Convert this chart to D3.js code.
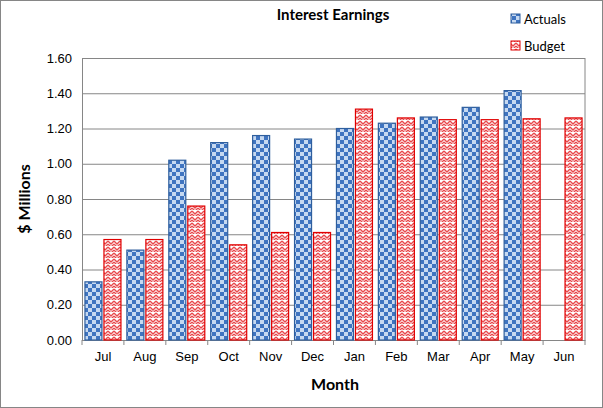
<!DOCTYPE html>
<html><head><meta charset="utf-8">
<script src="https://cdn.jsdelivr.net/npm/d3@7"></script>
<style>body{margin:0;background:#fff}svg{font-family:Lato,"Liberation Sans",sans-serif}</style>
</head><body><div id="chart"></div>
<script>
const months = ["Jul","Aug","Sep","Oct","Nov","Dec","Jan","Feb","Mar","Apr","May","Jun"];
const actuals = [0.33,0.51,1.02,1.12,1.16,1.14,1.20,1.23,1.265,1.32,1.415,null];
const budget = [0.57,0.57,0.76,0.54,0.61,0.61,1.31,1.26,1.25,1.25,1.255,1.26];
const yTicks = [0,0.2,0.4,0.6,0.8,1.0,1.2,1.4,1.6];

const W = 603, H = 408;
const m = {left: 82, right: 18, top: 58, bottom: 68};
const svg = d3.select("#chart").append("svg").attr("width", W).attr("height", H);
const defs = svg.append("defs");

// checker pattern for actuals
const chk = defs.append("pattern").attr("id", "chk").attr("patternUnits", "userSpaceOnUse")
    .attr("width", 8).attr("height", 8);
chk.append("rect").attr("width", 8).attr("height", 8).attr("fill", "#c6d9f1");
chk.append("rect").attr("width", 4).attr("height", 4).attr("fill", "#3f74c0");
chk.append("rect").attr("x", 4).attr("y", 4).attr("width", 4).attr("height", 4).attr("fill", "#3f74c0");

// zigzag pattern for budget
const zz = defs.append("pattern").attr("id", "zz").attr("patternUnits", "userSpaceOnUse")
    .attr("width", 6).attr("height", 6);
zz.append("rect").attr("width", 6).attr("height", 6).attr("fill", "#fff");
zz.append("path").attr("d", "M0,1 L3,4 L6,1 M0,4 L3,7 L6,4").attr("stroke", "#e8484c")
    .attr("stroke-width", 1.3).attr("fill", "none");

svg.append("rect").attr("x", 0.5).attr("y", 0.5).attr("width", W - 1).attr("height", H - 1)
    .attr("fill", "none").attr("stroke", "#868686");

const x = d3.scaleBand().domain(months).range([m.left, W - m.right]);
const y = d3.scaleLinear().domain([0, 1.6]).range([H - m.bottom, m.top]);

const g = svg.append("g");
g.append("g").attr("transform", `translate(${m.left},0)`)
    .call(d3.axisLeft(y).tickValues(yTicks).tickFormat(d3.format(".2f"))
        .tickSize(-(W - m.left - m.right)).tickPadding(10))
    .call(a => a.select(".domain").attr("stroke", "#868686"))
    .call(a => a.selectAll(".tick line").attr("stroke", "#868686"))
    .call(a => a.selectAll("text").attr("font-size", 13).attr("fill", "#000"));
g.append("line").attr("x1", W - m.right).attr("x2", W - m.right)
    .attr("y1", m.top).attr("y2", H - m.bottom).attr("stroke", "#868686");

g.append("g").attr("transform", `translate(0,${H - m.bottom})`)
    .call(d3.axisBottom(x).tickSize(0).tickPadding(12))
    .call(a => a.select(".domain").attr("stroke", "#868686"))
    .call(a => a.selectAll("text").attr("font-size", 13).attr("fill", "#000"));
// category separator ticks
g.selectAll(".sep").data(months.concat(["end"])).join("line")
    .attr("x1", (d, i) => m.left + i * x.bandwidth()).attr("x2", (d, i) => m.left + i * x.bandwidth())
    .attr("y1", H - m.bottom).attr("y2", H - m.bottom + 5).attr("stroke", "#868686");

const bw = 17, gap = 2;
const series = [
    {vals: actuals, fill: "url(#chk)", stroke: "#2f5f9e", off: -bw - gap / 2},
    {vals: budget, fill: "url(#zz)", stroke: "#e00000", off: gap / 2}
];
series.forEach(s => {
    g.selectAll(null).data(months.map((mo, i) => ({mo, v: s.vals[i]})).filter(d => d.v != null))
        .join("rect")
        .attr("x", d => x(d.mo) + x.bandwidth() / 2 + s.off)
        .attr("y", d => y(d.v)).attr("width", bw).attr("height", d => y(0) - y(d.v))
        .attr("fill", s.fill).attr("stroke", s.stroke).attr("stroke-width", 1.2);
});

svg.append("text").attr("x", 333).attr("y", 20).attr("text-anchor", "middle")
    .attr("font-size", 15).attr("font-weight", "bold").text("Interest Earnings");
svg.append("text").attr("x", 335).attr("y", 390).attr("text-anchor", "middle")
    .attr("font-size", 16).attr("font-weight", "bold").text("Month");
svg.append("text").attr("transform", "translate(30,199) rotate(-90)").attr("text-anchor", "middle")
    .attr("font-size", 16).attr("font-weight", "bold").text("$ Millions");

const leg = [{t: "Actuals", fill: "url(#chk)", stroke: "#2f5f9e", y: 24}, {t: "Budget", fill: "url(#zz)", stroke: "#e00000", y: 51}];
leg.forEach(l => {
    svg.append("rect").attr("x", 511).attr("y", l.y - 10).attr("width", 9).attr("height", 9)
        .attr("fill", l.fill).attr("stroke", l.stroke);
    svg.append("text").attr("x", 524).attr("y", l.y).attr("font-size", 13).text(l.t);
});
</script></body></html>
